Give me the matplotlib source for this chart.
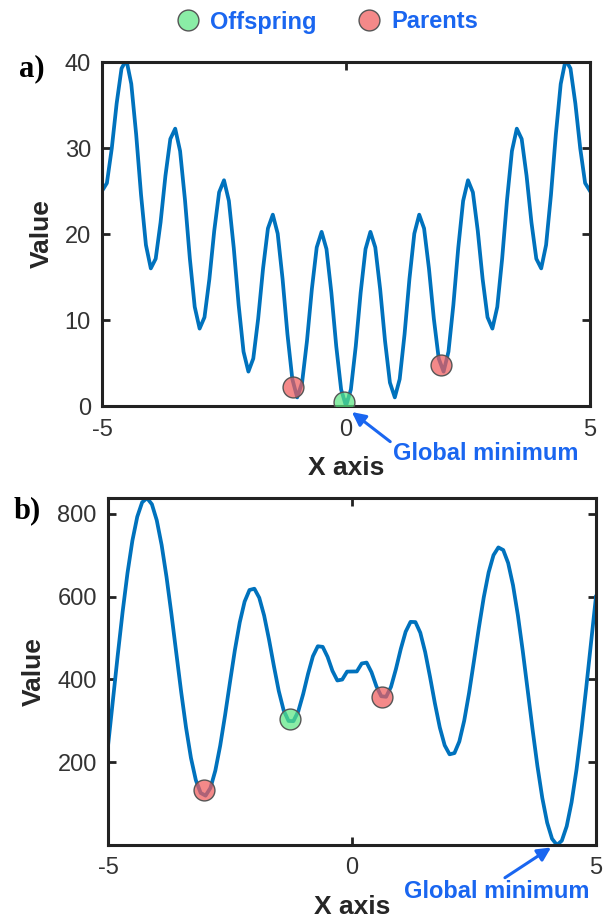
import matplotlib.pyplot as plt
from matplotlib.lines import Line2D
import numpy as np

# x grid shared by both panels (-5 .. 5, step 0.1)
x = np.round(np.arange(-50, 51) / 10, 1)

# panel a) values
val_a = [25.0, 25.92, 29.95, 35.18, 39.25, 40.25, 37.45, 31.58, 24.55, 18.72,
         16.0, 17.12, 21.35, 26.78, 31.05, 32.25, 29.65, 23.98, 17.15, 11.52,
         9.0, 10.32, 14.75, 20.38, 24.85, 26.25, 23.85, 18.38, 11.75, 6.32,
         4.0, 5.52, 10.15, 15.98, 20.65, 22.25, 20.05, 14.78, 8.35, 3.12,
         1.0, 2.72, 7.55, 13.58, 18.45, 20.25, 18.25, 13.18, 6.95, 1.92,
         0.0,
         1.92, 6.95, 13.18, 18.25, 20.25, 18.45, 13.58, 7.55, 2.72, 1.0,
         3.12, 8.35, 14.78, 20.05, 22.25, 20.65, 15.98, 10.15, 5.52, 4.0,
         6.32, 11.75, 18.38, 23.85, 26.25, 24.85, 20.38, 14.75, 10.32, 9.0,
         11.52, 17.15, 23.98, 29.65, 32.25, 31.05, 26.78, 21.35, 17.12, 16.0,
         18.72, 24.55, 31.58, 37.45, 40.25, 39.25, 35.18, 29.95, 25.92, 25.0]

# panel b) values
val_b = [238.3, 348.3, 458.4, 563.1, 656.9, 734.9, 792.8, 827.7, 837.9, 823.0,
         784.1, 724.2, 647.1, 558.2, 463.6, 369.7, 283.3, 210.5, 156.8, 125.6,
         119.2, 137.9, 179.7, 240.2, 313.8, 393.2, 470.4, 537.6, 587.9, 615.9,
         619.0, 597.2, 554.2, 496.3, 432.2, 371.9, 325.2, 299.6, 299.1, 322.9,
         364.6, 413.4, 456.0, 480.0, 478.6, 454.4, 420.6, 397.3, 399.6, 418.8,
         419.0,
         419.2, 438.4, 440.6, 417.3, 383.5, 359.3, 358.0, 382.0, 424.6, 473.4,
         515.1, 538.9, 538.4, 512.8, 466.0, 405.8, 341.7, 283.8, 240.7, 219.0,
         222.0, 250.0, 300.3, 367.5, 444.8, 524.2, 597.8, 658.3, 700.0, 718.7,
         712.4, 681.2, 627.5, 554.7, 468.3, 374.4, 279.8, 190.9, 113.7, 53.8,
         15.0, 0.1, 10.3, 45.2, 103.1, 181.1, 274.8, 379.5, 489.7, 599.6]

# individuals
off_a = ([-0.05], [0.5])
par_a = ([-1.08, 1.95], [2.2, 4.8])
off_b = ([-1.28], [304])
par_b = ([-3.03, 0.62], [133, 357])

line_col = '#0072BD'
blue = '#1a66f0'
green = (0.35, 0.9, 0.5, 0.7)
red = (0.94, 0.36, 0.36, 0.72)
dark = '#262626'

plt.rcParams['font.family'] = ['Liberation Sans', 'DejaVu Sans']
plt.rcParams['axes.unicode_minus'] = False

fig = plt.figure(figsize=(6.09, 9.24), dpi=100)
ax1 = fig.add_axes([0.1675, 0.5606, 0.8013, 0.3723])
ax2 = fig.add_axes([0.1773, 0.0855, 0.8013, 0.3755])


def style(ax):
    for sp in ax.spines.values():
        sp.set_linewidth(2.2)
        sp.set_color('#222222')
    ax.tick_params(direction='in', length=6, width=2, top=True, right=True,
                   labelsize=17, labelcolor='#333333', colors='#222222')
    ax.tick_params(axis='x', pad=9)
    ax.tick_params(axis='y', pad=8)
    ax.set_xlabel('X axis', fontsize=19, fontweight='bold', color=dark, labelpad=11)
    ax.set_ylabel('Value', fontsize=19, fontweight='bold', color=dark, labelpad=8)


mk = dict(ls='none', marker='o', ms=15, mec='#555555', mew=1, zorder=3)

ax1.plot(x, val_a, color=line_col, lw=2.7, zorder=2, solid_joinstyle='round')
ax1.plot(*par_a, mfc=red, **mk)
ax1.plot(*off_a, mfc=green, **mk)
ax1.set_xlim(-5, 5)
ax1.set_ylim(0, 40)
ax1.set_xticks([-5, 0, 5])
ax1.set_yticks([0, 10, 20, 30, 40])
style(ax1)

ax2.plot(x, val_b, color=line_col, lw=2.7, zorder=2, solid_joinstyle='round')
ax2.plot(*par_b, mfc=red, **mk)
ax2.plot(*off_b, mfc=green, **mk)
ax2.set_xlim(-5, 5)
ax2.set_ylim(0, 838)
ax2.set_xticks([-5, 0, 5])
ax2.set_yticks([200, 400, 600, 800])
style(ax2)

arrow = dict(arrowstyle='-|>', color=blue, lw=2.2, mutation_scale=20, shrinkA=0, shrinkB=0)
ax1.annotate('Global minimum', xy=(0.12, -0.7), xytext=(393 / 609, 1 - 453 / 924),
             textcoords='figure fraction', ha='left', va='center', fontsize=17,
             fontweight='bold', color=blue, annotation_clip=False,
             arrowprops=dict(relpos=(0.0, 0.9), **arrow))
ax2.annotate('Global minimum', xy=(4.08, -6), xytext=(497 / 609, 1 - 892 / 924),
             textcoords='figure fraction', ha='center', va='center', fontsize=17,
             fontweight='bold', color=blue, annotation_clip=False,
             arrowprops=dict(relpos=(0.52, 1.0), **arrow))

# panel letters
fig.text(19 / 609, 1 - 69 / 924, 'a)', fontsize=22, fontweight='bold',
         family='Liberation Serif', va='center')
fig.text(14 / 609, 1 - 511 / 924, 'b)', fontsize=22, fontweight='bold',
         family='Liberation Serif', va='center')

# legend
handles = [Line2D([], [], mfc=green, **mk), Line2D([], [], mfc=red, **mk)]
leg = fig.legend(handles, ['Offspring', 'Parents'], loc='center',
                 bbox_to_anchor=(0.537, 1 - 22 / 924), ncol=2, frameon=False,
                 handletextpad=0.45, columnspacing=1.7, handlelength=1.0,
                 prop=dict(size=17, weight='bold'))
for t in leg.get_texts():
    t.set_color(blue)

fig.savefig('out.png', dpi=100)
